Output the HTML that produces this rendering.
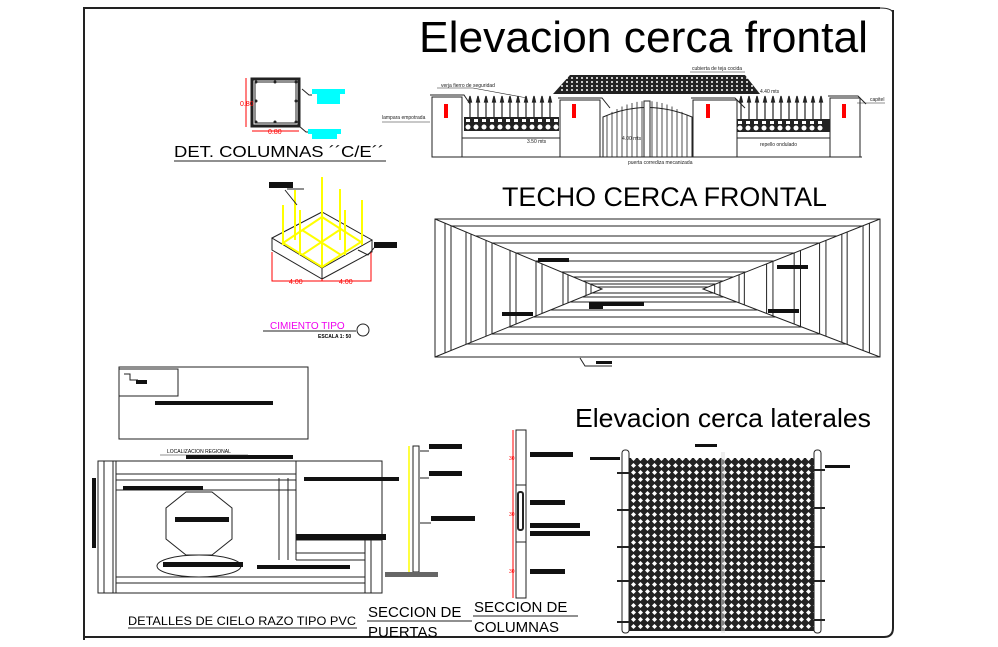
<!DOCTYPE html>
<html><head><meta charset="utf-8"><style>
html,body{margin:0;padding:0;background:#fff;}
svg{display:block;}
text{font-family:"Liberation Sans",sans-serif;}
</style></head><body>
<svg id="s" width="998" height="647" viewBox="0 0 998 647" xmlns="http://www.w3.org/2000/svg">
<defs>
<pattern id="mesh" width="7" height="7" patternUnits="userSpaceOnUse">
<rect width="7" height="7" fill="#222"/>
<path d="M3.5 1 L6 3.5 L3.5 6 L1 3.5Z" fill="#fff"/>
</pattern>
</defs>
<!-- frame -->
<path d="M84 640 V8 H880" fill="none" stroke="#222" stroke-width="2"/>
<path d="M893 10 V628 Q893 637 884 637 H84" fill="none" stroke="#222" stroke-width="2"/>
<path d="M880 8 Q893 8 893 14" fill="none" stroke="#222" stroke-width="1"/>

<!-- titles -->
<text x="419" y="52" font-size="44" textLength="449" lengthAdjust="spacingAndGlyphs">Elevacion cerca frontal</text>
<text x="502" y="206" font-size="27" textLength="325" lengthAdjust="spacingAndGlyphs">TECHO CERCA FRONTAL</text>
<text x="575" y="427" font-size="26" textLength="296" lengthAdjust="spacingAndGlyphs">Elevacion cerca laterales</text>

<!-- DET COLUMNAS -->
<rect x="252" y="79" width="47" height="47" fill="none" stroke="#222" stroke-width="3"/>
<rect x="255" y="82" width="41" height="41" fill="none" stroke="#222" stroke-width="1"/>
<g fill="#222"><circle cx="256" cy="82" r="1.5"/><circle cx="275" cy="82" r="1.5"/><circle cx="296" cy="82" r="1.5"/><circle cx="256" cy="122" r="1.5"/><circle cx="275" cy="122" r="1.5"/><circle cx="296" cy="122" r="1.5"/><circle cx="256" cy="101" r="1.5"/><circle cx="296" cy="101" r="1.5"/></g>
<path d="M246 78 V127 M252 131 H299" stroke="red" stroke-width="1"/>
<text x="240" y="106" font-size="7" fill="red">0.80</text>
<text x="268" y="134" font-size="7" fill="red">0.80</text>
<path d="M302 89 L309 95 H312 M299 126 L306 132 H310" stroke="#222" fill="none"/>
<rect x="312" y="89" width="33" height="5" fill="cyan"/><rect x="317" y="94" width="23" height="10" fill="cyan"/>
<rect x="308" y="129" width="33" height="5" fill="cyan"/><rect x="312" y="134" width="25" height="5" fill="cyan"/>
<text x="174" y="157" font-size="16" textLength="210" lengthAdjust="spacingAndGlyphs">DET. COLUMNAS ´´C/E´´</text>
<path d="M174 161 H386" stroke="#222"/>

<!-- cimiento -->
<path d="M272 238 L322 212 L372 240 L322 268 Z M272 238 V250 L322 279 V268 M322 279 L372 252 V240" fill="none" stroke="#222"/>
<g stroke="#ff0" stroke-width="2" fill="none">
<path d="M283 243 L322 217 L361 242 L322 267 Z M302 230 L341 255 M302 255 L341 229 M322 217 V267"/>
<path d="M283 205 V245 M295 190 V240 M322 177 V266 M340 189 V240 M362 200 V245 M300 210 V255 M345 210 V255"/>
</g>
<path d="M272 252 V281 H371 V252 M322 281 V279" stroke="red" fill="none"/>
<text x="289" y="284" font-size="7" fill="red">4.00</text><text x="339" y="284" font-size="7" fill="red">4.00</text>
<rect x="269" y="182" width="24" height="6" fill="#111"/>
<path d="M287 189 H304 M285 190 L297 205" stroke="#222"/>
<rect x="374" y="242" width="23" height="6" fill="#111"/>
<path d="M358 250 L368 255 L374 248" stroke="#222" fill="none"/>
<text x="270" y="329" font-size="10" fill="#e0e">CIMIENTO TIPO</text>
<path d="M263 331 H356" stroke="#222"/>
<text x="318" y="338" font-size="5" font-weight="bold">ESCALA 1: 50</text>
<circle cx="363" cy="330" r="6" fill="none" stroke="#222"/>

<!-- elevation frontal -->
<g stroke="#222" fill="none" stroke-width="1">
<path d="M432 157 H862"/>
<rect x="432" y="97" width="30" height="60" fill="#fff"/><path d="M430 95 H464 L470 104"/>
<rect x="560" y="100" width="40" height="57" fill="#fff"/><path d="M558 98 H602 L610 108"/>
<rect x="693" y="100" width="44" height="57" fill="#fff"/><path d="M691 98 H735 L745 108"/>
<rect x="830" y="98" width="30" height="59" fill="#fff"/><path d="M828 96 H858 L866 104"/>
<path d="M462 138 H560 M737 138 H830"/>
</g>
<g fill="#222">
<rect x="464" y="117" width="95" height="14"/>
<rect x="737" y="119" width="93" height="13"/>
<path d="M553 94 L570 75 H745 L760 94 Z"/>
</g>
<g fill="#fff"><g id="b1"></g></g>
<g stroke="#222" stroke-width="1.2" id="pick"></g>
<g stroke="#222" fill="none">
<path d="M603 117 Q647 98 692 117 V157 H603 Z"/>
<rect x="644" y="101" width="6" height="56" fill="#fff"/>
</g>
<g stroke="#222" stroke-width="0.8" id="gate"></g>
<g fill="red"><rect x="444" y="104" width="4" height="14"/><rect x="572" y="104" width="4" height="14"/><rect x="706" y="104" width="4" height="14"/><rect x="842" y="104" width="4" height="14"/></g>
<g font-size="5" fill="#222">
<text x="441" y="87">verja fierro de seguridad</text>
<text x="692" y="70">cubierta de teja cocida</text>
<text x="760" y="93">4.40 mts</text>
<text x="870" y="101">capitel</text>
<text x="382" y="119">lampara empotrada</text>
<text x="527" y="143">3.50 mts</text>
<text x="622" y="140">4.00 mts</text>
<text x="760" y="146">repello ondulado</text>
<text x="628" y="164">puerta corrediza mecanizada</text>
</g>
<path d="M437 88 H473 L527 98 M690 72 H745 M857 103 H885 M382 122 H430" stroke="#222" stroke-width="0.6" fill="none"/>

<!-- techo -->
<g id="techo" stroke="#222" stroke-width="1" fill="none"></g>
<g fill="#111">
<rect x="538" y="258" width="31" height="4"/><rect x="777" y="265" width="31" height="4"/>
<rect x="502" y="312" width="31" height="4"/><rect x="768" y="309" width="31" height="4"/>
<rect x="589" y="302" width="55" height="4"/><rect x="589" y="302" width="14" height="7"/>
<rect x="596" y="361" width="16" height="3"/>
</g>
<path d="M580 358 L585 366 H612" stroke="#222" fill="none"/>

<!-- legend box -->
<rect x="119" y="367" width="189" height="72" fill="none" stroke="#222"/>
<rect x="119" y="369" width="59" height="27" fill="none" stroke="#222"/>
<path d="M124 374 H130 V380 H138" stroke="#222" fill="none"/>
<rect x="155" y="401" width="118" height="4" fill="#111"/>
<rect x="136" y="380" width="11" height="4" fill="#111"/>

<!-- PVC detail -->
<g stroke="#222" fill="none">
<rect x="98" y="461" width="284" height="132"/>
<path d="M104 461 V593 M113 461 V593 M116 461 V593 M116 474 H296 M116 480 H296 M116 490 H296"/>
<path d="M279 478 V560 M288 478 V560 M296 461 V560 M296 540 H382 M296 553 H365 M296 560 H365 M365 540 V593 M371 540 V593 M116 577 H365 M116 583 H365"/>
<path d="M186 492 H212 L232 508 V539 L212 555 H186 L166 539 V508 Z"/>
<ellipse cx="199" cy="566" rx="42" ry="11"/>
</g>
<rect x="92" y="478" width="4" height="70" fill="#111"/>
<rect x="186" y="455" width="107" height="4" fill="#111"/>
<rect x="123" y="486" width="80" height="4" fill="#111"/>
<rect x="304" y="477" width="95" height="4" fill="#111"/>
<rect x="175" y="517" width="54" height="5" fill="#111"/>
<rect x="163" y="562" width="80" height="5" fill="#111"/>
<rect x="257" y="565" width="93" height="4" fill="#111"/>
<rect x="296" y="534" width="90" height="6" fill="#111"/>
<text x="167" y="453" font-size="5" font-family="Liberation Serif">LOCALIZACION REGIONAL</text>
<path d="M160 455 H248" stroke="#222" stroke-width="0.5"/>
<text x="128" y="625" font-size="12" textLength="228" lengthAdjust="spacingAndGlyphs">DETALLES DE CIELO RAZO TIPO PVC</text>
<path d="M128 628 H357" stroke="#222"/>

<!-- seccion puertas -->
<path d="M409 446 V572" stroke="#ff0" stroke-width="1.5"/>
<rect x="413" y="446" width="6" height="126" fill="none" stroke="#222"/>
<rect x="385" y="572" width="53" height="5" fill="#666"/>
<rect x="429" y="444" width="33" height="5" fill="#111"/>
<rect x="429" y="471" width="33" height="5" fill="#111"/>
<rect x="431" y="516" width="44" height="5" fill="#111"/>
<path d="M420 451 H429 M420 478 H429 M420 523 H431" stroke="#222"/>
<text x="368" y="617" font-size="15">SECCION DE</text>
<path d="M367 621 H472" stroke="#222"/>
<text x="368" y="637" font-size="15">PUERTAS</text>

<!-- seccion columnas -->
<path d="M513 430 V598" stroke="red"/>
<rect x="516" y="430" width="10" height="168" fill="none" stroke="#222"/>
<rect x="518" y="492" width="5" height="38" rx="2" fill="none" stroke="#222" stroke-width="2"/>
<path d="M516 485 H526 M516 542 H526" stroke="#222"/>
<g fill="red" font-size="5"><text x="509" y="460">30</text><text x="509" y="516">30</text><text x="509" y="573">30</text></g>
<rect x="530" y="452" width="43" height="5" fill="#111"/>
<rect x="530" y="500" width="35" height="5" fill="#111"/>
<rect x="530" y="523" width="50" height="5" fill="#111"/>
<rect x="530" y="531" width="60" height="5" fill="#111"/>
<rect x="530" y="569" width="35" height="5" fill="#111"/>
<text x="474" y="612" font-size="15">SECCION DE</text>
<path d="M473 616 H578" stroke="#222"/>
<text x="474" y="632" font-size="15">COLUMNAS</text>

<!-- chain link -->
<rect x="628" y="458" width="188" height="173" fill="url(#mesh)"/>
<rect x="622" y="450" width="7" height="183" rx="3" fill="#fff" stroke="#222"/>
<rect x="814" y="450" width="7" height="183" rx="3" fill="#fff" stroke="#222"/>
<path d="M722 452 V633 M724 452 V633" stroke="#ddd" stroke-width="1"/>
<g stroke="#222" stroke-width="2"><path d="M617 473 H630 M617 510 H630 M617 547 H630 M617 581 H630 M617 622 H630 M814 470 H825 M814 508 H825 M814 547 H825 M814 581 H825 M814 620 H825"/></g>
<rect x="695" y="444" width="22" height="3" fill="#111"/>
<rect x="825" y="465" width="25" height="3" fill="#111"/>
<rect x="590" y="457" width="30" height="3" fill="#111"/>
</svg>
<script>
var NS="http://www.w3.org/2000/svg";
function el(p,t,a){var e=document.createElementNS(NS,t);for(var k in a)e.setAttribute(k,a[k]);p.appendChild(e);return e;}
var T=document.getElementById("techo");
el(T,"rect",{x:435,y:219,width:445,height:138});
var L=602,R=703,C=289;
el(T,"path",{d:"M435 219 L"+L+" "+C+" L435 357 M880 219 L"+R+" "+C+" L880 357"});
function lx(y){return y<C?435+(y-219)/(C-219)*(L-435):435+(357-y)/(357-C)*(L-435);}
function rx(y){return 880-(435+(y<C?(y-219)/(C-219):(357-y)/(357-C))*(L-435)-435)*(880-R)/(L-435);}
[219,226,236,243,253,261,272,277,281,284,287,293,297,302,310,317,327,334,344,357].forEach(function(y){
 el(T,"line",{x1:lx(y),y1:y,x2:rx(y),y2:y});});
[445,451,466,471,486,492,510,516,536,542,563,568,586,591].forEach(function(x){
 var f=(x-435)/(L-435);el(T,"line",{x1:x,y1:219+f*(C-219),x2:x,y2:357-f*(357-C)});
 var xr=880-f*(880-R);el(T,"line",{x1:xr,y1:219+f*(C-219),x2:xr,y2:357-f*(357-C)});});
var P=document.getElementById("pick");
for(var x=470;x<558;x+=8){el(P,"line",{x1:x,y1:100,x2:x,y2:117});el(P,"path",{d:"M"+(x-1.5)+" 102 L"+x+" 96 L"+(x+1.5)+" 102Z",fill:"#222"});}
for(var x=741;x<828;x+=8){el(P,"line",{x1:x,y1:100,x2:x,y2:119});el(P,"path",{d:"M"+(x-1.5)+" 102 L"+x+" 96 L"+(x+1.5)+" 102Z",fill:"#222"});}
var B=document.getElementById("b1");
for(var x=468;x<558;x+=8){el(B,"circle",{cx:x,cy:127,r:2.5});el(B,"rect",{x:x-2,y:119,width:4,height:3});}
for(var x=740;x<828;x+=8){el(B,"circle",{cx:x,cy:128,r:2.5});el(B,"rect",{x:x-2,y:121,width:4,height:3});}
var G=document.getElementById("gate");
for(var x=607;x<692;x+=5){if(x>642&&x<652)continue;var y=117-18*(1-Math.pow((x-647)/45,2));el(G,"line",{x1:x,y1:y+2,x2:x,y2:157});}
var s=document.getElementById("s");
for(var y=78;y<93;y+=4)for(var x=560;x<755;x+=5)el(s,"circle",{cx:x+(y%8?2:0),cy:y,r:1,fill:"#fff"});
</script>
</body></html>
